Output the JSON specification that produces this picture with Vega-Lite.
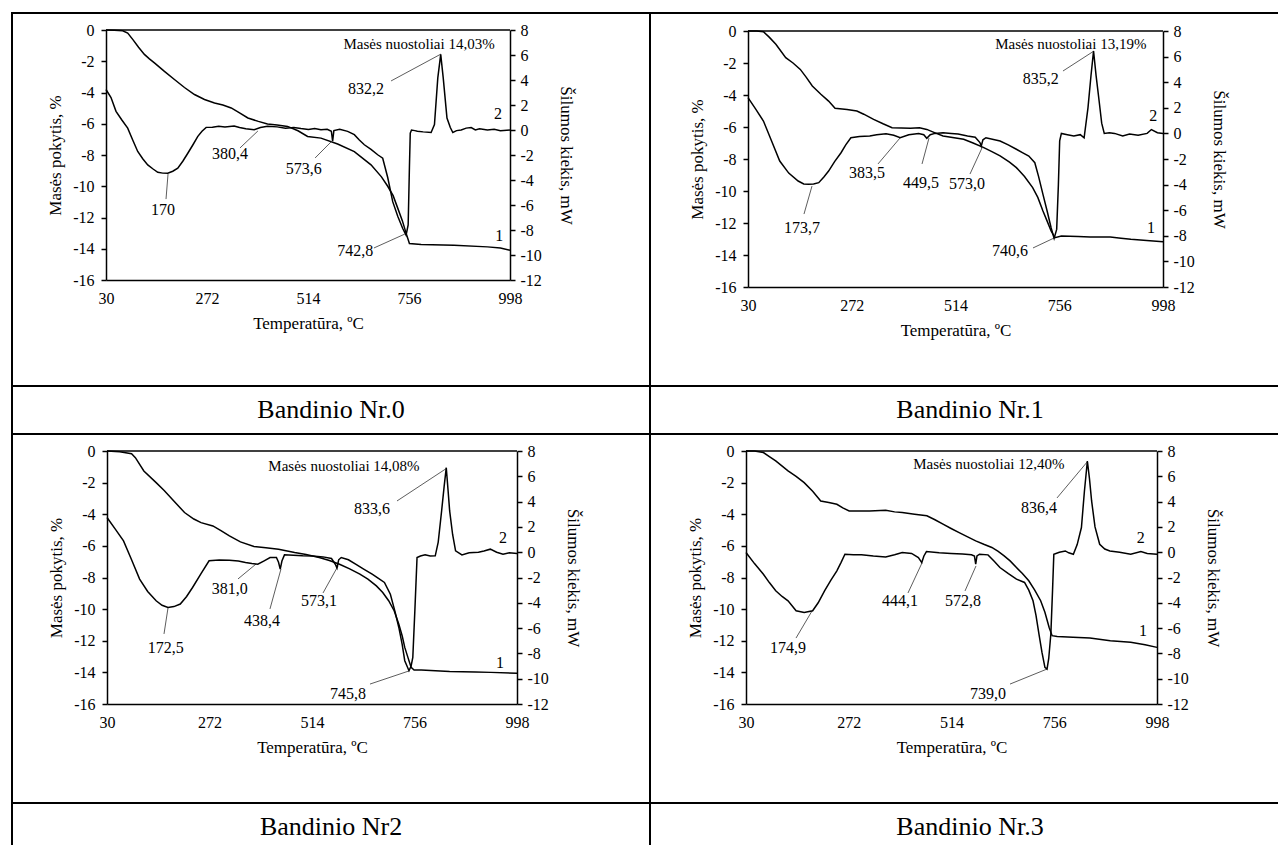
{
"$schema": "https://vega.github.io/schema/vega-lite/v6.json",
"padding": {"left": 11, "top": 12, "right": 0, "bottom": 0},
"background": "white",
"config": {
  "view": {"stroke": "black", "strokeWidth": 2},
  "font": "Liberation Serif",
  "axis": {"grid": false, "domainColor": "black", "domainWidth": 1.5, "tickColor": "black", "tickWidth": 1.5, "labelColor": "black", "labelFont": "Liberation Serif", "labelFontSize": 16, "titleColor": "black", "titleFont": "Liberation Serif", "titleFontSize": 17, "titleFontWeight": "normal", "labelFlush": false, "labelOverlap": false, "labelBound": false},
  "text": {"font": "Liberation Serif", "color": "black"}
},
"datasets": {
  "tg0": [{"t":30,"m":0},{"t":50,"m":-0.02},{"t":70,"m":-0.05},{"t":82,"m":-0.2},{"t":94,"m":-0.6},{"t":108,"m":-1.1},{"t":122,"m":-1.56},{"t":134,"m":-1.85},{"t":146,"m":-2.1},{"t":170,"m":-2.65},{"t":194,"m":-3.17},{"t":218,"m":-3.68},{"t":242,"m":-4.13},{"t":266,"m":-4.45},{"t":290,"m":-4.67},{"t":310,"m":-4.8},{"t":330,"m":-4.99},{"t":350,"m":-5.3},{"t":370,"m":-5.63},{"t":395,"m":-5.85},{"t":417,"m":-6.02},{"t":440,"m":-6.08},{"t":465,"m":-6.17},{"t":490,"m":-6.45},{"t":513,"m":-6.81},{"t":545,"m":-6.92},{"t":585,"m":-7.3},{"t":625,"m":-7.78},{"t":665,"m":-8.63},{"t":690,"m":-9.4},{"t":705,"m":-10.0},{"t":718,"m":-10.6},{"t":729,"m":-11.4},{"t":740,"m":-12.2},{"t":749,"m":-13.0},{"t":757,"m":-13.66},{"t":785,"m":-13.73},{"t":864,"m":-13.78},{"t":944,"m":-13.88},{"t":975,"m":-13.95},{"t":998,"m":-14.1}],
  "dsc0": [{"t":30,"q":3.24},{"t":42,"q":2.6},{"t":54,"q":1.49},{"t":68,"q":0.8},{"t":82,"q":0.15},{"t":94,"q":-0.8},{"t":106,"q":-1.72},{"t":118,"q":-2.3},{"t":130,"q":-2.79},{"t":142,"q":-3.1},{"t":154,"q":-3.38},{"t":166,"q":-3.45},{"t":178,"q":-3.46},{"t":190,"q":-3.3},{"t":202,"q":-3.06},{"t":214,"q":-2.5},{"t":226,"q":-1.86},{"t":238,"q":-1.2},{"t":250,"q":-0.51},{"t":260,"q":-0.1},{"t":270,"q":0.21},{"t":285,"q":0.22},{"t":300,"q":0.3},{"t":315,"q":0.25},{"t":337,"q":0.32},{"t":350,"q":0.2},{"t":365,"q":0.1},{"t":385,"q":0.02},{"t":400,"q":0.2},{"t":417,"q":0.29},{"t":440,"q":0.25},{"t":460,"q":0.15},{"t":480,"q":0.2},{"t":497,"q":0.12},{"t":515,"q":0.05},{"t":530,"q":0.12},{"t":545,"q":0.02},{"t":560,"q":0.05},{"t":570,"q":-0.1},{"t":573,"q":-0.9},{"t":576,"q":-0.05},{"t":590,"q":0.05},{"t":609,"q":-0.11},{"t":625,"q":-0.37},{"t":637,"q":-0.8},{"t":649,"q":-1.18},{"t":665,"q":-1.55},{"t":681,"q":-1.98},{"t":693,"q":-2.26},{"t":705,"q":-3.8},{"t":717,"q":-5.73},{"t":729,"q":-6.9},{"t":741,"q":-7.88},{"t":749,"q":-8.41},{"t":754,"q":-7.6},{"t":757,"q":-3.0},{"t":759,"q":-0.25},{"t":762,"q":0},{"t":770,"q":-0.05},{"t":776,"q":-0.1},{"t":790,"q":-0.15},{"t":809,"q":-0.2},{"t":817,"q":0.43},{"t":825,"q":4.17},{"t":832,"q":6.05},{"t":838,"q":4.17},{"t":847,"q":0.96},{"t":855,"q":0.2},{"t":861,"q":-0.2},{"t":870,"q":-0.05},{"t":881,"q":0},{"t":893,"q":0.15},{"t":905,"q":0.2},{"t":915,"q":0},{"t":925,"q":0.1},{"t":944,"q":0},{"t":960,"q":0.05},{"t":975,"q":-0.05},{"t":998,"q":0}],
  "an0": [{"t":166.6,"v":-11.52,"label":"170"},{"t":327,"v":-7.94,"label":"380,4"},{"t":504,"v":-8.9,"label":"573,6"},{"t":627,"v":-14.14,"label":"742,8"},{"t":653,"v":-3.78,"label":"832,2"},{"t":969,"v":-5.38,"label":"2"},{"t":972,"v":-13.18,"label":"1"}],
  "nt0": [{"t":780,"v":-0.9,"label":"Masės nuostoliai 14,03%"}],
  "ln0": [{"t1":173.8,"v1":-10.82,"t2":178.6,"v2":-9.22},{"t1":351,"v1":-7.55,"t2":394,"v2":-6.46},{"t1":531,"v1":-8.19,"t2":571.5,"v2":-7.1},{"t1":672,"v1":-13.95,"t2":746,"v2":-13.06},{"t1":713,"v1":-3.26,"t2":832.5,"v2":-1.54}],
  "tg1": [{"t":30,"m":0},{"t":50,"m":0},{"t":66,"m":-0.05},{"t":80,"m":-0.4},{"t":95,"m":-0.83},{"t":118,"m":-1.67},{"t":135,"m":-2.0},{"t":152,"m":-2.4},{"t":166,"m":-2.9},{"t":180,"m":-3.44},{"t":200,"m":-3.95},{"t":218,"m":-4.38},{"t":233,"m":-4.83},{"t":261,"m":-4.9},{"t":284,"m":-5.0},{"t":300,"m":-5.2},{"t":323,"m":-5.52},{"t":345,"m":-5.8},{"t":366,"m":-6.04},{"t":409,"m":-6.08},{"t":430,"m":-6.05},{"t":447,"m":-6.15},{"t":465,"m":-6.35},{"t":485,"m":-6.56},{"t":533,"m":-6.77},{"t":555,"m":-7.0},{"t":580,"m":-7.29},{"t":600,"m":-7.55},{"t":618,"m":-7.81},{"t":640,"m":-8.2},{"t":656,"m":-8.54},{"t":675,"m":-9.1},{"t":694,"m":-9.79},{"t":706,"m":-10.4},{"t":718,"m":-11.25},{"t":728,"m":-11.9},{"t":737,"m":-12.5},{"t":746,"m":-12.92},{"t":761,"m":-12.81},{"t":800,"m":-12.85},{"t":828,"m":-12.87},{"t":875,"m":-12.87},{"t":900,"m":-12.95},{"t":923,"m":-13.02},{"t":960,"m":-13.1},{"t":998,"m":-13.17}],
  "dsc1": [{"t":30,"q":2.79},{"t":48,"q":1.9},{"t":66,"q":0.97},{"t":85,"q":-0.6},{"t":104,"q":-2.16},{"t":125,"q":-3.1},{"t":147,"q":-3.72},{"t":160,"q":-3.95},{"t":171,"q":-3.98},{"t":183,"q":-3.95},{"t":195,"q":-3.85},{"t":207,"q":-3.4},{"t":218,"q":-2.94},{"t":232,"q":-2.2},{"t":247,"q":-1.51},{"t":258,"q":-0.9},{"t":270,"q":-0.34},{"t":290,"q":-0.25},{"t":314,"q":-0.2},{"t":330,"q":-0.1},{"t":352,"q":-0.02},{"t":370,"q":-0.15},{"t":385,"q":-0.34},{"t":405,"q":-0.1},{"t":428,"q":0},{"t":440,"q":-0.1},{"t":447,"q":-0.38},{"t":455,"q":-0.1},{"t":466,"q":0},{"t":485,"q":0.05},{"t":504,"q":0},{"t":520,"q":-0.05},{"t":542,"q":-0.2},{"t":560,"q":-0.3},{"t":571,"q":-0.72},{"t":574,"q":-1.0},{"t":578,"q":-0.5},{"t":585,"q":-0.34},{"t":600,"q":-0.45},{"t":618,"q":-0.59},{"t":637,"q":-0.9},{"t":656,"q":-1.24},{"t":670,"q":-1.5},{"t":685,"q":-1.77},{"t":699,"q":-2.29},{"t":708,"q":-3.4},{"t":718,"q":-4.76},{"t":728,"q":-6.1},{"t":737,"q":-7.37},{"t":744,"q":-8.2},{"t":750,"q":-7.5},{"t":754,"q":-4.0},{"t":757,"q":-0.59},{"t":761,"q":0},{"t":775,"q":-0.1},{"t":790,"q":-0.2},{"t":805,"q":-0.1},{"t":814,"q":-0.35},{"t":823,"q":2.0},{"t":830,"q":4.5},{"t":836,"q":6.44},{"t":842,"q":4.5},{"t":849,"q":2.53},{"t":855,"q":0.8},{"t":861,"q":0},{"t":873,"q":0.05},{"t":885,"q":0},{"t":904,"q":-0.2},{"t":920,"q":-0.05},{"t":940,"q":-0.15},{"t":961,"q":0},{"t":971,"q":0.3},{"t":985,"q":0.05},{"t":998,"q":0}],
  "an1": [{"t":156,"v":-12.31,"label":"173,7"},{"t":307.6,"v":-8.88,"label":"383,5"},{"t":433.5,"v":-9.5,"label":"449,5"},{"t":540.8,"v":-9.56,"label":"573,0"},{"t":641,"v":-13.75,"label":"740,6"},{"t":713,"v":-3.0,"label":"835,2"},{"t":975,"v":-5.31,"label":"2"},{"t":970,"v":-12.31,"label":"1"}],
  "nt1": [{"t":783,"v":-0.81,"label":"Masės nuostoliai 13,19%"}],
  "ln1": [{"t1":160.6,"v1":-11.44,"t2":179.3,"v2":-9.69},{"t1":333.2,"v1":-8.31,"t2":384.5,"v2":-6.69},{"t1":435.9,"v1":-8.31,"t2":452.2,"v2":-6.69},{"t1":547.8,"v1":-8.94,"t2":575.8,"v2":-7.31},{"t1":694.8,"v1":-13.56,"t2":743.8,"v2":-12.94},{"t1":764.7,"v1":-2.5,"t2":837,"v2":-1.25}],
  "tg2": [{"t":30,"m":0},{"t":60,"m":-0.05},{"t":88,"m":-0.17},{"t":97,"m":-0.42},{"t":117,"m":-1.26},{"t":146,"m":-2.0},{"t":165,"m":-2.5},{"t":184,"m":-3.05},{"t":213,"m":-3.89},{"t":235,"m":-4.3},{"t":252,"m":-4.53},{"t":280,"m":-4.74},{"t":300,"m":-5.05},{"t":319,"m":-5.37},{"t":345,"m":-5.75},{"t":377,"m":-6.04},{"t":405,"m":-6.12},{"t":435,"m":-6.21},{"t":473,"m":-6.42},{"t":500,"m":-6.55},{"t":531,"m":-6.74},{"t":555,"m":-6.92},{"t":579,"m":-7.16},{"t":603,"m":-7.45},{"t":627,"m":-7.79},{"t":646,"m":-8.1},{"t":666,"m":-8.53},{"t":681,"m":-8.95},{"t":695,"m":-9.47},{"t":708,"m":-10.1},{"t":719,"m":-10.95},{"t":727,"m":-11.7},{"t":733,"m":-12.42},{"t":741,"m":-13.1},{"t":748,"m":-13.68},{"t":755,"m":-13.85},{"t":772,"m":-13.85},{"t":839,"m":-13.94},{"t":900,"m":-13.98},{"t":936,"m":-14.0},{"t":998,"m":-14.06}],
  "dsc2": [{"t":30,"q":2.74},{"t":50,"q":1.8},{"t":69,"q":0.89},{"t":88,"q":-0.6},{"t":107,"q":-2.13},{"t":126,"q":-3.1},{"t":146,"q":-3.84},{"t":160,"q":-4.2},{"t":174,"q":-4.37},{"t":188,"q":-4.3},{"t":203,"q":-4.1},{"t":218,"q":-3.5},{"t":232,"q":-2.79},{"t":252,"q":-1.7},{"t":271,"q":-0.68},{"t":295,"q":-0.62},{"t":319,"q":-0.63},{"t":340,"q":-0.7},{"t":357,"q":-0.82},{"t":372,"q":-0.9},{"t":386,"q":-0.95},{"t":400,"q":-0.7},{"t":415,"q":-0.42},{"t":430,"q":-0.42},{"t":435,"q":-0.8},{"t":439,"q":-1.34},{"t":443,"q":-0.7},{"t":449,"q":-0.21},{"t":470,"q":-0.25},{"t":492,"q":-0.29},{"t":515,"q":-0.3},{"t":540,"q":-0.37},{"t":560,"q":-0.5},{"t":569,"q":-0.95},{"t":573,"q":-1.25},{"t":577,"q":-0.6},{"t":583,"q":-0.42},{"t":600,"q":-0.6},{"t":617,"q":-0.95},{"t":637,"q":-1.35},{"t":656,"q":-1.74},{"t":670,"q":-2.05},{"t":685,"q":-2.39},{"t":699,"q":-3.32},{"t":710,"q":-4.7},{"t":719,"q":-5.95},{"t":727,"q":-7.3},{"t":733,"q":-8.58},{"t":743,"q":-9.37},{"t":748,"q":-9.0},{"t":752,"q":-8.32},{"t":757,"q":-4.5},{"t":762,"q":-0.42},{"t":770,"q":-0.3},{"t":781,"q":-0.21},{"t":793,"q":-0.3},{"t":805,"q":-0.29},{"t":812,"q":0.8},{"t":820,"q":3.26},{"t":826,"q":5.2},{"t":831,"q":6.68},{"t":835,"q":5.0},{"t":839,"q":3.26},{"t":846,"q":1.4},{"t":853,"q":0.11},{"t":868,"q":-0.21},{"t":885,"q":-0.05},{"t":907,"q":0},{"t":920,"q":0.1},{"t":935,"q":0.24},{"t":950,"q":0.0},{"t":965,"q":-0.16},{"t":980,"q":-0.05},{"t":998,"q":-0.1}],
  "an2": [{"t":169,"v":-12.46,"label":"172,5"},{"t":320,"v":-8.73,"label":"381,0"},{"t":396,"v":-10.75,"label":"438,4"},{"t":530.5,"v":-9.49,"label":"573,1"},{"t":599,"v":-15.37,"label":"745,8"},{"t":655.6,"v":-3.67,"label":"833,6"},{"t":965,"v":-5.5,"label":"2"},{"t":958,"v":-13.4,"label":"1"}],
  "nt2": [{"t":589.5,"v":-0.95,"label":"Masės nuostoliai 14,08%"}],
  "ln2": [{"t1":164.6,"v1":-11.57,"t2":174,"v2":-9.93},{"t1":339.3,"v1":-8.09,"t2":381.8,"v2":-7.15},{"t1":414.8,"v1":-9.99,"t2":440.8,"v2":-7.46},{"t1":540,"v1":-8.98,"t2":575.4,"v2":-7.27},{"t1":650.9,"v1":-14.74,"t2":743,"v2":-13.91},{"t1":714.7,"v1":-3.16,"t2":832.7,"v2":-1.08}],
  "tg3": [{"t":30,"m":0},{"t":50,"m":0},{"t":71,"m":-0.1},{"t":85,"m":-0.35},{"t":100,"m":-0.63},{"t":129,"m":-1.26},{"t":148,"m":-1.6},{"t":167,"m":-2.0},{"t":187,"m":-2.55},{"t":206,"m":-3.16},{"t":225,"m":-3.26},{"t":244,"m":-3.37},{"t":258,"m":-3.6},{"t":273,"m":-3.79},{"t":300,"m":-3.8},{"t":321,"m":-3.79},{"t":359,"m":-3.75},{"t":380,"m":-3.85},{"t":398,"m":-3.89},{"t":427,"m":-4.0},{"t":456,"m":-4.1},{"t":475,"m":-4.35},{"t":494,"m":-4.63},{"t":513,"m":-4.9},{"t":532,"m":-5.16},{"t":552,"m":-5.43},{"t":571,"m":-5.68},{"t":590,"m":-5.9},{"t":609,"m":-6.1},{"t":624,"m":-6.35},{"t":638,"m":-6.63},{"t":652,"m":-6.95},{"t":667,"m":-7.37},{"t":681,"m":-7.75},{"t":696,"m":-8.21},{"t":710,"m":-8.8},{"t":724,"m":-9.47},{"t":734,"m":-10.2},{"t":744,"m":-11.16},{"t":751,"m":-11.68},{"t":763,"m":-11.73},{"t":800,"m":-11.78},{"t":840,"m":-11.83},{"t":888,"m":-12.0},{"t":936,"m":-12.1},{"t":970,"m":-12.25},{"t":998,"m":-12.42}],
  "dsc3": [{"t":30,"q":-0.03},{"t":50,"q":-0.9},{"t":71,"q":-1.74},{"t":85,"q":-2.4},{"t":100,"q":-3.05},{"t":115,"q":-3.5},{"t":129,"q":-3.84},{"t":148,"q":-4.63},{"t":167,"q":-4.76},{"t":187,"q":-4.63},{"t":200,"q":-4.0},{"t":215,"q":-3.05},{"t":230,"q":-2.2},{"t":244,"q":-1.47},{"t":254,"q":-0.8},{"t":263,"q":-0.16},{"t":283,"q":-0.2},{"t":302,"q":-0.21},{"t":330,"q":-0.3},{"t":359,"q":-0.37},{"t":380,"q":-0.2},{"t":398,"q":-0.03},{"t":420,"q":-0.1},{"t":436,"q":-0.42},{"t":444,"q":-0.82},{"t":449,"q":-0.3},{"t":455,"q":0.05},{"t":485,"q":-0.05},{"t":513,"q":-0.1},{"t":540,"q":-0.15},{"t":561,"q":-0.21},{"t":568,"q":-0.3},{"t":571,"q":-0.95},{"t":574,"q":-0.3},{"t":580,"q":-0.16},{"t":600,"q":-0.21},{"t":614,"q":-0.7},{"t":628,"q":-1.21},{"t":648,"q":-1.7},{"t":667,"q":-2.13},{"t":686,"q":-2.39},{"t":696,"q":-3.0},{"t":706,"q":-3.84},{"t":713,"q":-5.0},{"t":720,"q":-6.47},{"t":727,"q":-7.9},{"t":734,"q":-9.11},{"t":739,"q":-9.24},{"t":743,"q":-8.4},{"t":748,"q":-6.47},{"t":752,"q":-3.0},{"t":755,"q":-0.16},{"t":768,"q":0},{"t":782,"q":0.1},{"t":790,"q":-0.05},{"t":801,"q":-0.16},{"t":810,"q":0.6},{"t":820,"q":1.95},{"t":827,"q":4.8},{"t":834,"q":7.21},{"t":839,"q":5.8},{"t":844,"q":4.05},{"t":852,"q":2.0},{"t":863,"q":0.63},{"t":875,"q":0.25},{"t":887,"q":0.1},{"t":910,"q":0},{"t":936,"q":-0.16},{"t":960,"q":0.05},{"t":975,"q":-0.1},{"t":998,"q":-0.16}],
  "an3": [{"t":129,"v":-12.46,"label":"174,9"},{"t":392.7,"v":-9.49,"label":"444,1"},{"t":541,"v":-9.49,"label":"572,8"},{"t":600,"v":-15.37,"label":"739,0"},{"t":720,"v":-3.6,"label":"836,4"},{"t":960,"v":-5.5,"label":"2"},{"t":965,"v":-11.38,"label":"1"}],
  "nt3": [{"t":602,"v":-0.82,"label":"Masės nuostoliai 12,40%"}],
  "ln3": [{"t1":147.8,"v1":-11.83,"t2":185.4,"v2":-10.12},{"t1":411.5,"v1":-8.98,"t2":444.5,"v2":-7.08},{"t1":545.8,"v1":-8.85,"t2":571.7,"v2":-7.27},{"t1":651.8,"v1":-14.74,"t2":738.9,"v2":-13.79},{"t1":762.5,"v1":-2.97,"t2":835.5,"v2":-0.63}]
},
"columns": 2,
"spacing": 0,
"bounds": "flush",
"concat": [
  {"width": 638, "height": 373,
   "layer": [
      {"data": {"name": "tg0"}, "mark": {"type": "line", "color": "black", "strokeWidth": 1.5},
       "encoding": {
        "x": {"field": "t", "type": "quantitative", "scale": {"domain": [30, 998], "range": [94, 498], "nice": false, "zero": false},
              "axis": {"orient": "bottom", "offset": -106, "values": [30, 272, 514, 756, 998], "title": "Temperatūra, ºC", "ticks": false, "labelPadding": 10, "titlePadding": 9, "labelExpr": "'' + datum.value"}},
        "y": {"field": "m", "type": "quantitative", "scale": {"domain": [-16, 0], "range": [267, 17], "nice": false, "zero": false},
              "axis": {"orient": "left", "offset": -94, "values": [-16, -14, -12, -10, -8, -6, -4, -2, 0], "title": "Masės pokytis, %", "tickSize": 5, "labelPadding": 7, "titlePadding": 8, "labelExpr": "'' + datum.value"}}}},
      {"data": {"values": [{}]}, "mark": {"type": "rule", "color": "black", "strokeWidth": 1.5},
       "encoding": {"x": {"datum": 30, "type": "quantitative", "axis": null}, "x2": {"datum": 998}, "y": {"datum": 0, "type": "quantitative", "axis": null, "scale": {"domain": [-16, 0], "range": [267, 17], "nice": false, "zero": false}}}},
      {"data": {"name": "ln0"}, "mark": {"type": "rule", "color": "#333333", "strokeWidth": 0.8},
       "encoding": {"x": {"field": "t1", "type": "quantitative", "axis": null}, "x2": {"field": "t2"}, "y": {"field": "v1", "type": "quantitative", "axis": null, "scale": {"domain": [-16, 0], "range": [267, 17], "nice": false, "zero": false}}, "y2": {"field": "v2"}}},
      {"data": {"name": "an0"}, "mark": {"type": "text", "fontSize": 16},
       "encoding": {"x": {"field": "t", "type": "quantitative", "axis": null}, "y": {"field": "v", "type": "quantitative", "axis": null, "scale": {"domain": [-16, 0], "range": [267, 17], "nice": false, "zero": false}}, "text": {"field": "label"}}},
      {"data": {"name": "nt0"}, "mark": {"type": "text", "fontSize": 15},
       "encoding": {"x": {"field": "t", "type": "quantitative", "axis": null}, "y": {"field": "v", "type": "quantitative", "axis": null, "scale": {"domain": [-16, 0], "range": [267, 17], "nice": false, "zero": false}}, "text": {"field": "label"}}},
      {"data": {"name": "dsc0"}, "mark": {"type": "line", "color": "black", "strokeWidth": 1.5},
       "encoding": {
        "x": {"field": "t", "type": "quantitative", "axis": null},
        "y": {"field": "q", "type": "quantitative", "scale": {"domain": [-12, 8], "range": [267, 17], "nice": false, "zero": false},
              "axis": {"orient": "right", "offset": -140, "values": [-12, -10, -8, -6, -4, -2, 0, 2, 4, 6, 8], "title": "Šilumos kiekis, mW", "tickSize": 5, "labelPadding": 5, "titlePadding": 15, "labelExpr": "'' + datum.value"}}}}
   ],
   "resolve": {"scale": {"y": "independent"}, "axis": {"x": "independent"}}},
  {"width": 640, "height": 373,
   "layer": [
      {"data": {"name": "tg1"}, "mark": {"type": "line", "color": "black", "strokeWidth": 1.5},
       "encoding": {
        "x": {"field": "t", "type": "quantitative", "scale": {"domain": [30, 998], "range": [98, 513], "nice": false, "zero": false},
              "axis": {"orient": "bottom", "offset": -99, "values": [30, 272, 514, 756, 998], "title": "Temperatūra, ºC", "ticks": false, "labelPadding": 10, "titlePadding": 9, "labelExpr": "'' + datum.value"}},
        "y": {"field": "m", "type": "quantitative", "scale": {"domain": [-16, 0], "range": [274, 18], "nice": false, "zero": false},
              "axis": {"orient": "left", "offset": -98, "values": [-16, -14, -12, -10, -8, -6, -4, -2, 0], "title": "Masės pokytis, %", "tickSize": 5, "labelPadding": 7, "titlePadding": 8, "labelExpr": "'' + datum.value"}}}},
      {"data": {"values": [{}]}, "mark": {"type": "rule", "color": "black", "strokeWidth": 1.5},
       "encoding": {"x": {"datum": 30, "type": "quantitative", "axis": null}, "x2": {"datum": 998}, "y": {"datum": 0, "type": "quantitative", "axis": null, "scale": {"domain": [-16, 0], "range": [274, 18], "nice": false, "zero": false}}}},
      {"data": {"name": "ln1"}, "mark": {"type": "rule", "color": "#333333", "strokeWidth": 0.8},
       "encoding": {"x": {"field": "t1", "type": "quantitative", "axis": null}, "x2": {"field": "t2"}, "y": {"field": "v1", "type": "quantitative", "axis": null, "scale": {"domain": [-16, 0], "range": [274, 18], "nice": false, "zero": false}}, "y2": {"field": "v2"}}},
      {"data": {"name": "an1"}, "mark": {"type": "text", "fontSize": 16},
       "encoding": {"x": {"field": "t", "type": "quantitative", "axis": null}, "y": {"field": "v", "type": "quantitative", "axis": null, "scale": {"domain": [-16, 0], "range": [274, 18], "nice": false, "zero": false}}, "text": {"field": "label"}}},
      {"data": {"name": "nt1"}, "mark": {"type": "text", "fontSize": 15},
       "encoding": {"x": {"field": "t", "type": "quantitative", "axis": null}, "y": {"field": "v", "type": "quantitative", "axis": null, "scale": {"domain": [-16, 0], "range": [274, 18], "nice": false, "zero": false}}, "text": {"field": "label"}}},
      {"data": {"name": "dsc1"}, "mark": {"type": "line", "color": "black", "strokeWidth": 1.5},
       "encoding": {
        "x": {"field": "t", "type": "quantitative", "axis": null},
        "y": {"field": "q", "type": "quantitative", "scale": {"domain": [-12, 8], "range": [274, 18], "nice": false, "zero": false},
              "axis": {"orient": "right", "offset": -127, "values": [-12, -10, -8, -6, -4, -2, 0, 2, 4, 6, 8], "title": "Šilumos kiekis, mW", "tickSize": 5, "labelPadding": 5, "titlePadding": 15, "labelExpr": "'' + datum.value"}}}}
   ],
   "resolve": {"scale": {"y": "independent"}, "axis": {"x": "independent"}}},
  {"width": 638, "height": 48, "view": {"stroke": "black", "strokeWidth": 2}, "data": {"values": [{"label": "Bandinio Nr.0"}]}, "mark": {"type": "text", "fontSize": 26},
   "encoding": {"text": {"field": "label"}, "x": {"datum": 0.5, "type": "quantitative", "scale": {"domain": [0, 1]}, "axis": null}, "y": {"datum": 0.5, "type": "quantitative", "scale": {"domain": [0, 1]}, "axis": null}}},
  {"width": 640, "height": 48, "view": {"stroke": "black", "strokeWidth": 2}, "data": {"values": [{"label": "Bandinio Nr.1"}]}, "mark": {"type": "text", "fontSize": 26},
   "encoding": {"text": {"field": "label"}, "x": {"datum": 0.5, "type": "quantitative", "scale": {"domain": [0, 1]}, "axis": null}, "y": {"datum": 0.5, "type": "quantitative", "scale": {"domain": [0, 1]}, "axis": null}}},
  {"width": 638, "height": 369,
   "layer": [
      {"data": {"name": "tg2"}, "mark": {"type": "line", "color": "black", "strokeWidth": 1.5},
       "encoding": {
        "x": {"field": "t", "type": "quantitative", "scale": {"domain": [30, 998], "range": [95, 505], "nice": false, "zero": false},
              "axis": {"orient": "bottom", "offset": -99, "values": [30, 272, 514, 756, 998], "title": "Temperatūra, ºC", "ticks": false, "labelPadding": 10, "titlePadding": 9, "labelExpr": "'' + datum.value"}},
        "y": {"field": "m", "type": "quantitative", "scale": {"domain": [-16, 0], "range": [270, 17], "nice": false, "zero": false},
              "axis": {"orient": "left", "offset": -95, "values": [-16, -14, -12, -10, -8, -6, -4, -2, 0], "title": "Masės pokytis, %", "tickSize": 5, "labelPadding": 7, "titlePadding": 8, "labelExpr": "'' + datum.value"}}}},
      {"data": {"values": [{}]}, "mark": {"type": "rule", "color": "black", "strokeWidth": 1.5},
       "encoding": {"x": {"datum": 30, "type": "quantitative", "axis": null}, "x2": {"datum": 998}, "y": {"datum": 0, "type": "quantitative", "axis": null, "scale": {"domain": [-16, 0], "range": [270, 17], "nice": false, "zero": false}}}},
      {"data": {"name": "ln2"}, "mark": {"type": "rule", "color": "#333333", "strokeWidth": 0.8},
       "encoding": {"x": {"field": "t1", "type": "quantitative", "axis": null}, "x2": {"field": "t2"}, "y": {"field": "v1", "type": "quantitative", "axis": null, "scale": {"domain": [-16, 0], "range": [270, 17], "nice": false, "zero": false}}, "y2": {"field": "v2"}}},
      {"data": {"name": "an2"}, "mark": {"type": "text", "fontSize": 16},
       "encoding": {"x": {"field": "t", "type": "quantitative", "axis": null}, "y": {"field": "v", "type": "quantitative", "axis": null, "scale": {"domain": [-16, 0], "range": [270, 17], "nice": false, "zero": false}}, "text": {"field": "label"}}},
      {"data": {"name": "nt2"}, "mark": {"type": "text", "fontSize": 15},
       "encoding": {"x": {"field": "t", "type": "quantitative", "axis": null}, "y": {"field": "v", "type": "quantitative", "axis": null, "scale": {"domain": [-16, 0], "range": [270, 17], "nice": false, "zero": false}}, "text": {"field": "label"}}},
      {"data": {"name": "dsc2"}, "mark": {"type": "line", "color": "black", "strokeWidth": 1.5},
       "encoding": {
        "x": {"field": "t", "type": "quantitative", "axis": null},
        "y": {"field": "q", "type": "quantitative", "scale": {"domain": [-12, 8], "range": [270, 17], "nice": false, "zero": false},
              "axis": {"orient": "right", "offset": -133, "values": [-12, -10, -8, -6, -4, -2, 0, 2, 4, 6, 8], "title": "Šilumos kiekis, mW", "tickSize": 5, "labelPadding": 5, "titlePadding": 15, "labelExpr": "'' + datum.value"}}}}
   ],
   "resolve": {"scale": {"y": "independent"}, "axis": {"x": "independent"}}},
  {"width": 640, "height": 369,
   "layer": [
      {"data": {"name": "tg3"}, "mark": {"type": "line", "color": "black", "strokeWidth": 1.5},
       "encoding": {
        "x": {"field": "t", "type": "quantitative", "scale": {"domain": [30, 998], "range": [96, 507], "nice": false, "zero": false},
              "axis": {"orient": "bottom", "offset": -99, "values": [30, 272, 514, 756, 998], "title": "Temperatūra, ºC", "ticks": false, "labelPadding": 10, "titlePadding": 9, "labelExpr": "'' + datum.value"}},
        "y": {"field": "m", "type": "quantitative", "scale": {"domain": [-16, 0], "range": [270, 17], "nice": false, "zero": false},
              "axis": {"orient": "left", "offset": -96, "values": [-16, -14, -12, -10, -8, -6, -4, -2, 0], "title": "Masės pokytis, %", "tickSize": 5, "labelPadding": 7, "titlePadding": 8, "labelExpr": "'' + datum.value"}}}},
      {"data": {"values": [{}]}, "mark": {"type": "rule", "color": "black", "strokeWidth": 1.5},
       "encoding": {"x": {"datum": 30, "type": "quantitative", "axis": null}, "x2": {"datum": 998}, "y": {"datum": 0, "type": "quantitative", "axis": null, "scale": {"domain": [-16, 0], "range": [270, 17], "nice": false, "zero": false}}}},
      {"data": {"name": "ln3"}, "mark": {"type": "rule", "color": "#333333", "strokeWidth": 0.8},
       "encoding": {"x": {"field": "t1", "type": "quantitative", "axis": null}, "x2": {"field": "t2"}, "y": {"field": "v1", "type": "quantitative", "axis": null, "scale": {"domain": [-16, 0], "range": [270, 17], "nice": false, "zero": false}}, "y2": {"field": "v2"}}},
      {"data": {"name": "an3"}, "mark": {"type": "text", "fontSize": 16},
       "encoding": {"x": {"field": "t", "type": "quantitative", "axis": null}, "y": {"field": "v", "type": "quantitative", "axis": null, "scale": {"domain": [-16, 0], "range": [270, 17], "nice": false, "zero": false}}, "text": {"field": "label"}}},
      {"data": {"name": "nt3"}, "mark": {"type": "text", "fontSize": 15},
       "encoding": {"x": {"field": "t", "type": "quantitative", "axis": null}, "y": {"field": "v", "type": "quantitative", "axis": null, "scale": {"domain": [-16, 0], "range": [270, 17], "nice": false, "zero": false}}, "text": {"field": "label"}}},
      {"data": {"name": "dsc3"}, "mark": {"type": "line", "color": "black", "strokeWidth": 1.5},
       "encoding": {
        "x": {"field": "t", "type": "quantitative", "axis": null},
        "y": {"field": "q", "type": "quantitative", "scale": {"domain": [-12, 8], "range": [270, 17], "nice": false, "zero": false},
              "axis": {"orient": "right", "offset": -133, "values": [-12, -10, -8, -6, -4, -2, 0, 2, 4, 6, 8], "title": "Šilumos kiekis, mW", "tickSize": 5, "labelPadding": 5, "titlePadding": 15, "labelExpr": "'' + datum.value"}}}}
   ],
   "resolve": {"scale": {"y": "independent"}, "axis": {"x": "independent"}}},
  {"width": 638, "height": 48, "view": {"stroke": "black", "strokeWidth": 2}, "data": {"values": [{"label": "Bandinio Nr2"}]}, "mark": {"type": "text", "fontSize": 26},
   "encoding": {"text": {"field": "label"}, "x": {"datum": 0.5, "type": "quantitative", "scale": {"domain": [0, 1]}, "axis": null}, "y": {"datum": 0.5, "type": "quantitative", "scale": {"domain": [0, 1]}, "axis": null}}},
  {"width": 640, "height": 48, "view": {"stroke": "black", "strokeWidth": 2}, "data": {"values": [{"label": "Bandinio Nr.3"}]}, "mark": {"type": "text", "fontSize": 26},
   "encoding": {"text": {"field": "label"}, "x": {"datum": 0.5, "type": "quantitative", "scale": {"domain": [0, 1]}, "axis": null}, "y": {"datum": 0.5, "type": "quantitative", "scale": {"domain": [0, 1]}, "axis": null}}}
]
}
